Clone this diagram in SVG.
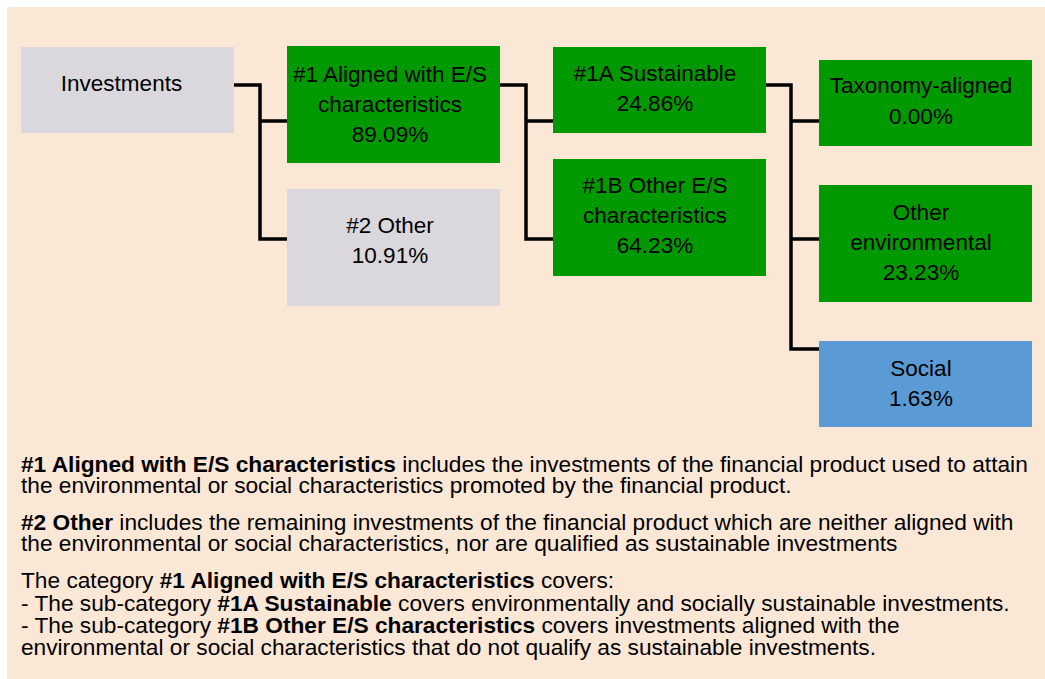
<svg xmlns="http://www.w3.org/2000/svg" width="1045" height="679" viewBox="0 0 1045 679">
<style>
.bg{fill:#FAE7D5}
.grey{fill:#DBD8DD}
.green{fill:#009900}
.blue{fill:#5B9BD5}
.t{font-family:"Liberation Sans",Arial,sans-serif;font-size:22.5px;fill:#000;text-anchor:middle}
.p{font-family:"Liberation Sans",Arial,sans-serif;font-size:22.7px;fill:#000}
.b{font-weight:bold}
.c{fill:none;stroke:#000;stroke-width:3.5}
</style>
<rect class="bg" x="7" y="7" width="1038" height="672"/>
<g id="connectors">
<path class="c" d="M234,85 H260 V239 H287 M260,121 H287"/>
<path class="c" d="M500,85 H526 V239 H553 M526,121 H553"/>
<path class="c" d="M766,85 H791 V349 H819 M791,121 H819 M791,239 H819"/>
</g>
<g id="investments"><rect class="grey" x="21" y="47" width="213" height="86"/><text class="t" x="121.5" y="91">Investments</text></g>
<g id="aligned"><rect class="green" x="287" y="46" width="213" height="117"/><text class="t"><tspan x="390" y="82">#1 Aligned with E/S</tspan><tspan x="390" y="112">characteristics</tspan><tspan x="390" y="142">89.09%</tspan></text></g>
<g id="other"><rect class="grey" x="287" y="189" width="213" height="117"/><text class="t"><tspan x="390" y="233">#2 Other</tspan><tspan x="390" y="263">10.91%</tspan></text></g>
<g id="sustainable"><rect class="green" x="553" y="47" width="213" height="86"/><text class="t"><tspan x="655" y="81">#1A Sustainable</tspan><tspan x="655" y="111">24.86%</tspan></text></g>
<g id="otheres"><rect class="green" x="553" y="159" width="213" height="117"/><text class="t"><tspan x="655" y="193">#1B Other E/S</tspan><tspan x="655" y="223">characteristics</tspan><tspan x="655" y="253">64.23%</tspan></text></g>
<g id="taxonomy"><rect class="green" x="819" y="60" width="213" height="86"/><text class="t"><tspan x="921" y="93">Taxonomy-aligned</tspan><tspan x="921" y="124">0.00%</tspan></text></g>
<g id="otherenv"><rect class="green" x="819" y="185" width="213" height="117"/><text class="t"><tspan x="921" y="220">Other</tspan><tspan x="921" y="250">environmental</tspan><tspan x="921" y="280">23.23%</tspan></text></g>
<g id="social"><rect class="blue" x="819" y="341" width="213" height="86"/><text class="t"><tspan x="921" y="376">Social</tspan><tspan x="921" y="406">1.63%</tspan></text></g>
<g id="notes">
<text class="p" x="21" y="472"><tspan class="b">#1 Aligned with E/S characteristics</tspan> includes the investments of the financial product used to attain</text>
<text class="p" x="21" y="493">the environmental or social characteristics promoted by the financial product.</text>
<text class="p" x="21" y="530"><tspan class="b">#2 Other</tspan> includes the remaining investments of the financial product which are neither aligned with</text>
<text class="p" x="21" y="551">the environmental or social characteristics, nor are qualified as sustainable investments</text>
<text class="p" x="21" y="588">The category <tspan class="b">#1 Aligned with E/S characteristics</tspan> covers:</text>
<text class="p" x="21" y="611">- The sub-category <tspan class="b">#1A Sustainable</tspan> covers environmentally and socially sustainable investments.</text>
<text class="p" x="21" y="633">- The sub-category <tspan class="b">#1B Other E/S characteristics</tspan> covers investments aligned with the</text>
<text class="p" x="21" y="655">environmental or social characteristics that do not qualify as sustainable investments.</text>
</g>
</svg>
